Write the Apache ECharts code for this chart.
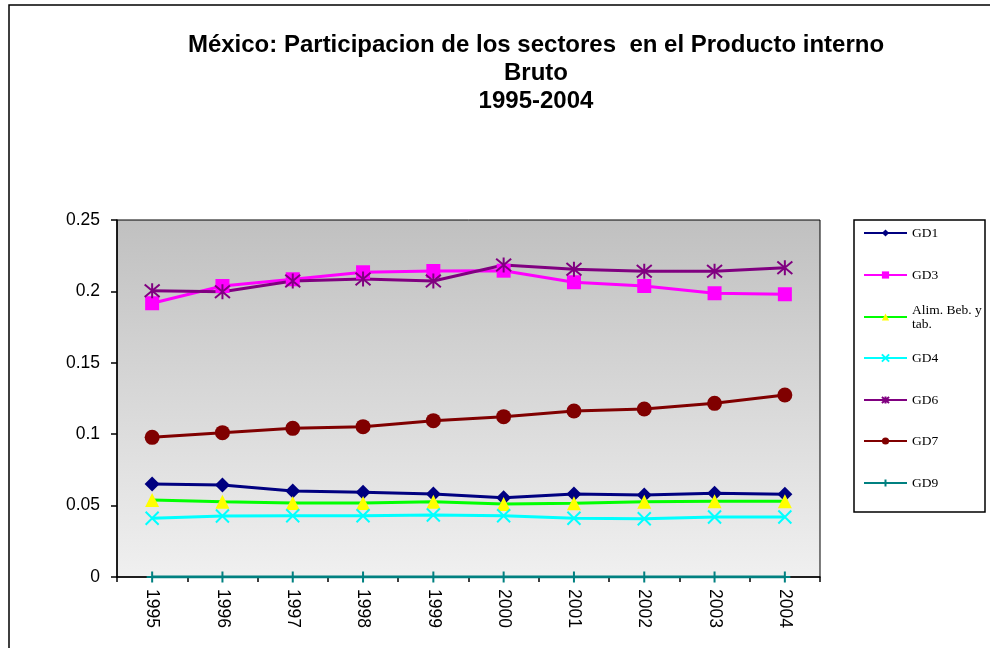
<!DOCTYPE html>
<html>
<head>
<meta charset="utf-8">
<script src="https://cdn.jsdelivr.net/npm/echarts@6/dist/echarts.min.js"></script>
<style>
html,body{margin:0;padding:0;background:#fff;}
#chart{width:990px;height:648px;}
</style>
</head>
<body>
<div id="chart"></div>
<script>
const years = ['1995','1996','1997','1998','1999','2000','2001','2002','2003','2004'];
const yTicks = [0, 0.05, 0.1, 0.15, 0.2, 0.25];
const seriesNames = ['GD1','GD3','Alim. Beb. y tab.','GD4','GD6','GD7','GD9'];
const gd1  = [0.0651,0.0644,0.0602,0.0593,0.0581,0.0555,0.0581,0.0574,0.0586,0.0579];
const gd3  = [0.1917,0.2038,0.2085,0.2134,0.2143,0.2145,0.2064,0.2038,0.1987,0.1980];
const alim = [0.0539,0.0527,0.0518,0.0518,0.0527,0.0511,0.0516,0.0527,0.0530,0.0530];
const gd4  = [0.0411,0.0427,0.0429,0.0429,0.0434,0.0429,0.0411,0.0408,0.0420,0.0420];
const gd6  = [0.2005,0.1998,0.2073,0.2087,0.2073,0.2185,0.2155,0.2141,0.2141,0.2166];
const gd7  = [0.0978,0.1011,0.1041,0.1053,0.1095,0.1123,0.1162,0.1176,0.1216,0.1275];
const gd9  = [0,0,0,0,0,0,0,0,0,0];

const chart = echarts.init(document.getElementById('chart'));
const sans = '"Liberation Sans", Arial, sans-serif';
const serif = '"Liberation Serif", "Times New Roman", serif';

const X_PATH = 'path://M0,0L10,10M10,0L0,10';
const STAR_PATH = 'path://M0,0L10,10M10,0L0,10M5,-1L5,11';
const PLUS_PATH = 'path://M5,0L5,10M0,5L10,5';

function mk(name, data, lineColor, symbol, size, fill, stroke, strokeW) {
  return {
    name: name, type: 'line', data: data,
    symbol: symbol, symbolSize: size,
    lineStyle: {color: lineColor, width: 3},
    itemStyle: {color: fill, borderColor: stroke || fill, borderWidth: strokeW || 0},
    emphasis: {disabled: true},
    animation: false
  };
}

const series = [
  mk(seriesNames[0], gd1, '#000080', 'diamond', 15, '#000080'),
  mk(seriesNames[1], gd3, '#FF00FF', 'rect', 14, '#FF00FF'),
  mk(seriesNames[2], alim, '#00FF00', 'triangle', 14, '#FFFF00'),
  mk(seriesNames[3], gd4, '#00FFFF', X_PATH, 13, '#00FFFF', '#00FFFF', 2),
  mk(seriesNames[4], gd6, '#800080', STAR_PATH, 15, '#800080', '#800080', 2),
  mk(seriesNames[5], gd7, '#800000', 'circle', 15, '#800000'),
  mk(seriesNames[6], gd9, '#008080', PLUS_PATH, 11, '#008080', '#008080', 2)
];

const legendCenters = [233, 275, 317, 358, 400, 441, 483];
const legends = seriesNames.map(function (n, i) {
  const isAlim = i === 2;
  return {
    data: [n],
    left: 863,
    top: isAlim ? legendCenters[i] - 21 : legendCenters[i] - 7,
    padding: 0,
    itemWidth: 43, itemHeight: 9,
    selectedMode: false,
    formatter: isAlim ? function () { return 'Alim. Beb. y\ntab.'; } : undefined,
    textStyle: isAlim ? {fontFamily: serif, fontSize: 13.5, color: '#000', lineHeight: 14, padding: [14, 0, 0, 0]}
                      : {fontFamily: serif, fontSize: 13.5, color: '#000', lineHeight: 14}
  };
});

chart.setOption({
  backgroundColor: '#fff',
  animation: false,
  title: {
    text: 'México: Participacion de los sectores  en el Producto interno\nBruto\n1995-2004',
    left: 536, top: 31, padding: 0,
    textAlign: 'center',
    textStyle: {fontFamily: sans, fontWeight: 'bold', fontSize: 24, color: '#000', lineHeight: 28}
  },
  legend: legends,
  grid: {
    left: 117, top: 220, width: 703, height: 357,
    show: true,
    borderColor: '#000', borderWidth: 1,
    backgroundColor: new echarts.graphic.LinearGradient(0, 0, 0, 1, [
      {offset: 0, color: '#c0c0c0'}, {offset: 1, color: '#f0f0f0'}
    ])
  },
  xAxis: {
    type: 'category', data: years, boundaryGap: true,
    axisLine: {lineStyle: {color: '#000', width: 1.5}},
    axisTick: {show: true, alignWithLabel: false, length: 5, inside: false, lineStyle: {color: '#000', width: 1.5}},
    axisLabel: {rotate: -90, margin: 12, fontFamily: sans, fontSize: 17.5, color: '#000', interval: 0},
    splitLine: {show: false}
  },
  yAxis: {
    type: 'value', min: yTicks[0], max: yTicks[yTicks.length - 1], interval: 0.05,
    axisLine: {show: true, lineStyle: {color: '#000', width: 1.5}},
    axisTick: {show: true, length: 6, inside: false, lineStyle: {color: '#000', width: 1.5}},
    axisLabel: {margin: 17, fontFamily: sans, fontSize: 17.5, color: '#000'},
    splitLine: {show: false}
  },
  graphic: [{
    type: 'rect', z: -10, silent: true,
    shape: {x: 9, y: 5, width: 1000, height: 700},
    style: {fill: 'none', stroke: '#000', lineWidth: 1.5}
  }, {
    type: 'rect', z: -5, silent: true,
    shape: {x: 854, y: 220, width: 131, height: 292},
    style: {fill: '#fff', stroke: '#000', lineWidth: 1.5}
  }],
  series: series
});
</script>
</body>
</html>
